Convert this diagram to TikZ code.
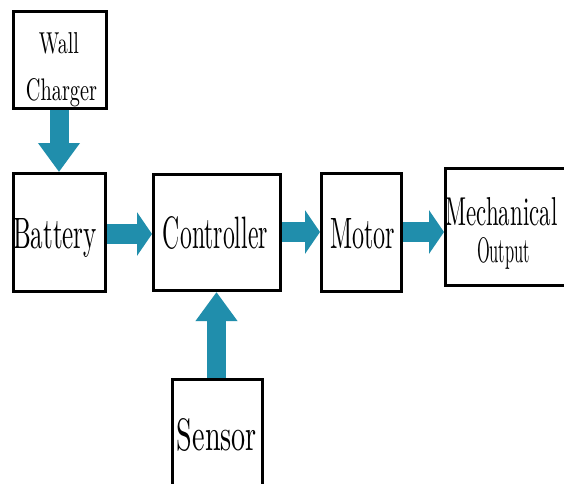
\documentclass[tikz,border=0pt]{standalone}
\usetikzlibrary{arrows.meta}
\definecolor{flow}{RGB}{32,142,172}
\newcommand{\fitlbl}[3]{\resizebox{#1pt}{#2pt}{#3}}
\tikzset{
  blk/.style={draw=black, line width=3pt, fill=white, inner sep=0pt, outer sep=1.5pt},
  openblk/.style={draw=none, inner sep=0pt, outer sep=1.5pt},
  edge/.style={draw=black, line width=3pt, line join=miter},
  lbl/.style={anchor=base, inner sep=0pt, outer sep=0pt, text=black},
  hflow/.style={draw=flow, line width=20pt, -{Triangle[length=15pt, width=43pt]}, fill=flow},
  vflow/.style={draw=flow, line width=19pt, -{Triangle[length=29pt, width=40pt]}, fill=flow}
}
\begin{document}
\begin{tikzpicture}[x=1pt, y=-1pt]
\useasboundingbox (0,0) rectangle (564,483);
\fill[white] (0,0) rectangle (564,483);
% boxes
\node[blk, minimum width=93pt, minimum height=97pt] (wall) at (60,60) {};
\node[blk, minimum width=92pt, minimum height=118pt] (bat) at (59.5,232.5) {};
\node[blk, minimum width=127pt, minimum height=116pt] (ctrl) at (217,232.5) {};
\node[blk, minimum width=80pt, minimum height=118pt] (mot) at (361.5,232.5) {};
\node[openblk, minimum width=153pt, minimum height=117pt] (mech) at (522,227) {};
\draw[edge] ([xshift=-1.5pt,yshift=-1.5pt]mech.north east) -- ([xshift=1.5pt,yshift=-1.5pt]mech.north west)
  -- ([xshift=1.5pt,yshift=1.5pt]mech.south west) -- ([xshift=-1.5pt,yshift=1.5pt]mech.south east);
\node[openblk, minimum width=90pt, minimum height=122pt] (sen) at (217.5,440) {};
\draw[edge] ([xshift=1.5pt,yshift=1.5pt]sen.south west) -- ([xshift=1.5pt,yshift=-1.5pt]sen.north west)
  -- ([xshift=-1.5pt,yshift=-1.5pt]sen.north east) -- ([xshift=-1.5pt,yshift=1.5pt]sen.south east);
% arrows
\coordinate (wallS) at (wall.south -| 59,0);
\coordinate (batN) at (bat.north -| 59,0);
\draw[vflow] (wallS) -- (batN);
\coordinate (batE) at (bat.east |- 0,234);
\coordinate (ctrlW) at (ctrl.west |- 0,234);
\draw[hflow] (batE) -- (ctrlW);
\coordinate (ctrlE) at (ctrl.east |- 0,232);
\coordinate (motW) at (mot.west |- 0,232);
\draw[hflow] (ctrlE) -- (motW);
\coordinate (motE) at (mot.east |- 0,232);
\coordinate (mechW) at (mech.west |- 0,232);
\draw[hflow] (motE) -- (mechW);
\coordinate (senN) at (sen.north -| 216.5,0);
\coordinate (ctrlS) at (ctrl.south -| 216.5,0);
\draw[vflow] (senN) -- (ctrlS);
% labels
\node[lbl] (wallA) at (59,53) {\fitlbl{40}{21}{Wall}};
\node[lbl] (wallB) at (61.5,100) {\fitlbl{71}{22}{Charger}};
\node[lbl] (batT) at (55,248) {\fitlbl{84}{30}{Battery}};
\node[lbl] (ctrlT) at (215.5,248) {\fitlbl{105}{32}{Controller}};
\node[lbl] (motT) at (362.5,248) {\fitlbl{65}{30}{Motor}};
\node[lbl] (mechA) at (501.5,225) {\fitlbl{112}{28}{Mechanical}};
\node[lbl] (mechB) at (503.5,262) {\fitlbl{53}{25}{Output}};
\node[lbl] (senT) at (217,450) {\fitlbl{80}{32}{Sensor}};
\end{tikzpicture}
\end{document}
